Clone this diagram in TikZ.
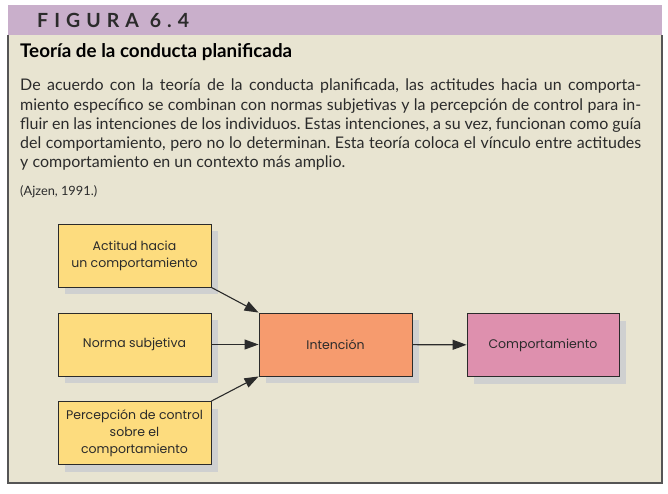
\documentclass[tikz,border=0pt]{standalone}
\usepackage{fontspec}
\setmainfont{Lato}
\newfontfamily\boxfont{Poppins}
\usepackage{tikz}
\usetikzlibrary{arrows.meta, positioning, shadows}
\definecolor{pagebeige}{HTML}{E8E4D1}
\definecolor{bandpurple}{HTML}{C9AFCB}
\definecolor{boxyellow}{HTML}{FDDC7E}
\definecolor{boxorange}{HTML}{F69B6E}
\definecolor{boxpink}{HTML}{DE90AE}
\definecolor{shadowgray}{HTML}{CFD0D0}
\definecolor{framegray}{HTML}{555555}
\definecolor{inkgray}{HTML}{2B2B2B}

\tikzset{
    model/.style={draw=inkgray, line width=0.9pt, minimum width=153pt, minimum height=63pt,
        align=center, text=inkgray, font=\boxfont\fontsize{12.5}{17}\selectfont,
        general shadow={fill=shadowgray, shadow xshift=7pt, shadow yshift=-7pt}},
    link/.style={-{Triangle[length=14pt, width=10pt]}, line width=1.1pt, draw=inkgray}
}

\begin{document}
\frenchspacing
\begin{tikzpicture}[x=1pt, y=-1pt]
    \useasboundingbox (0,0) rectangle (668,494);
    \fill[white] (0,0) rectangle (668,494);

    % ===== Frame =====
    \fill[pagebeige] (8,35) rectangle (662,483);
    \fill[bandpurple] (8,5) rectangle (662,35);
    \draw[framegray, line width=1.5pt] (8,35) -- (8,483) -- (662,483) -- (662,35);
    \node[anchor=west, inner sep=0pt, text=inkgray, font=\bfseries\fontsize{19.5}{21}\selectfont\addfontfeature{LetterSpace=31}] (title) at (37,20) {FIGURA 6.4};

    % ===== Caption =====
    \node[anchor=west, inner sep=0pt, text=black, font=\bfseries\fontsize{18.8}{21}\selectfont] (heading) at (20,52) {Teoría de la conducta planificada};
    \node[anchor=north west, align=justify, text width=621pt, inner sep=0pt, text=inkgray, font=\fontsize{16}{19.2}\selectfont] (body) at (20,79) {%
        De acuerdo con la teoría de la conducta planificada, las actitudes hacia un comporta-\linebreak
        miento específico se combinan con normas subjetivas y la percepción de control para in-\linebreak
        fluir en las intenciones de los individuos. Estas intenciones, a su vez, funcionan como guía\linebreak
        del comportamiento, pero no lo determinan. Esta teoría coloca el vínculo entre actitudes\linebreak
        y comportamiento en un contexto más amplio.};
    \node[anchor=west, inner sep=0pt, text=inkgray, font=\fontsize{12.8}{14}\selectfont] (source) at (20,192) {(Ajzen, 1991.)};

    % ===== Boxes =====
    \node[model, fill=boxyellow] (attitude) at (134.5,255.5) {Actitud hacia\\un comportamiento};
    \node[model, fill=boxyellow] (norm) at (134.5,344.5) {Norma subjetiva};
    \node[model, fill=boxyellow] (control) at (134.5,433) {Percepción de control\\sobre el\\comportamiento};
    \node[model, fill=boxorange] (intention) at (335.5,344.5) {Intención};
    \node[model, fill=boxpink, minimum width=152pt] (behavior) at (543,345) {Comportamiento};

    % Arrows
    \draw[link] (attitude.south east) -- (intention.north west);
    \draw[link] (norm) -- (intention);
    \draw[link] (control.north east) -- (intention.south west);
    \draw[link] (intention) -- (behavior);
\end{tikzpicture}
\end{document}
